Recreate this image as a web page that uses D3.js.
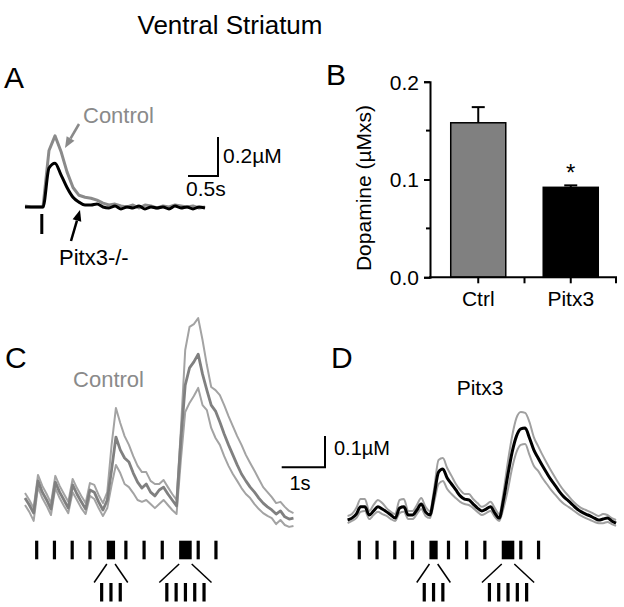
<!DOCTYPE html>
<html><head><meta charset="utf-8">
<script src="https://cdn.jsdelivr.net/npm/d3@7"></script>
<style>
body{margin:0;background:#fff}
svg{display:block}
text{font-family:"Liberation Sans",Arial,Helvetica,sans-serif}
</style>
</head><body>
<svg id="chart" width="624" height="607"></svg>
<script>
// ---------------- DATA ----------------
// Panel A: single-pulse evoked dopamine (µM) sampled every 0.1 s
const timeA = [0,0.1,0.2,0.3,0.4,0.5,0.6,0.7,0.8,0.9,1.0,1.1,1.2,1.3,1.4,1.5,1.6,1.7,1.8,1.9,2.0,2.1,2.2,2.3,2.4,2.5,2.6,2.7,2.8,2.9,3.0];
const controlA = [0.005,0,0,0,0.29,0.365,0.285,0.18,0.1,0.06,0.05,0.045,0.035,0.02,0.01,0.015,0.005,0,0.01,-0.005,0.01,0.005,-0.005,0.005,0,0.01,0.005,0,0.005,-0.005,0];
const pitx3A   = [0,0,0,0,0.2,0.225,0.165,0.1,0.05,0.025,0.01,0.01,0.015,0,-0.005,0.005,-0.01,0,-0.005,0.005,-0.01,0,-0.005,0,-0.01,0.005,-0.005,0,-0.01,0,-0.005];
const stimA = [0.28];

// Panel B: bar chart
const categories = ["Ctrl","Pitx3"];
const barMeans = [0.158, 0.092];
const barSem = [0.016, 0.002];
const yTicksB = [0, 0.1, 0.2];
const yMinorB = [0.05, 0.15];
const yTickLabelsB = ["0.0","0.1","0.2"];

// Panels C & D: train-evoked dopamine (µM), sampled every 0.1 s
const timeCD = [0,0.1,0.2,0.3,0.4,0.5,0.6,0.7,0.8,0.9,1.0,1.1,1.2,1.3,1.4,1.5,1.6,1.7,1.8,1.9,2.0,2.1,2.2,2.3,2.4,2.5,2.6,2.7,2.8,2.9,3.0,3.1,3.2,3.3,3.4,3.5,3.6,3.7,3.8,3.9,4.0,4.1,4.2,4.3,4.4,4.5,4.6,4.7,4.8,4.9,5.0,5.1,5.2,5.3,5.4,5.5,5.6,5.7,5.8,5.9,6.0,6.1,6.2];
const controlMean = [0.070,0.048,0.022,0.125,0.089,0.064,0.035,0.121,0.089,0.064,0.038,0.112,0.083,0.058,0.035,0.096,0.089,0.058,0.032,0.064,0.160,0.265,0.224,0.198,0.185,0.150,0.121,0.102,0.115,0.089,0.077,0.096,0.105,0.083,0.064,0.045,0.256,0.431,0.486,0.505,0.530,0.466,0.415,0.367,0.348,0.313,0.275,0.240,0.208,0.176,0.147,0.125,0.105,0.089,0.070,0.054,0.042,0.032,0.019,0.029,0.010,0.003,0.006];
const controlUpper = [0.086,0.064,0.038,0.144,0.109,0.083,0.054,0.141,0.109,0.083,0.058,0.131,0.102,0.077,0.054,0.118,0.112,0.080,0.054,0.089,0.240,0.358,0.310,0.268,0.240,0.204,0.173,0.153,0.153,0.125,0.115,0.115,0.128,0.105,0.083,0.064,0.288,0.543,0.617,0.626,0.645,0.575,0.495,0.425,0.415,0.399,0.367,0.332,0.300,0.268,0.240,0.208,0.182,0.157,0.131,0.105,0.089,0.073,0.054,0.058,0.042,0.029,0.022];
const controlLower = [0.048,0.026,-0.003,0.105,0.070,0.045,0.016,0.102,0.070,0.045,0.022,0.089,0.064,0.038,0.019,0.077,0.067,0.038,0.013,0.038,0.112,0.176,0.150,0.115,0.105,0.086,0.064,0.058,0.064,0.051,0.038,0.051,0.064,0.048,0.032,0.019,0.192,0.345,0.374,0.396,0.422,0.367,0.351,0.294,0.262,0.240,0.204,0.173,0.147,0.125,0.102,0.083,0.070,0.051,0.035,0.022,0.013,0.006,-0.013,0,-0.016,-0.022,-0.019];
const pitx3Mean = [0,0.006,0.019,0.042,0.042,0.016,0.029,0.042,0.035,0.026,0.016,0.006,0.038,0.042,0.016,0.016,0.032,0.051,0.026,0.016,0.080,0.153,0.163,0.134,0.115,0.096,0.077,0.067,0.064,0.051,0.038,0.029,0.035,0.042,0.022,0.006,0.064,0.144,0.217,0.268,0.291,0.294,0.262,0.224,0.198,0.173,0.150,0.128,0.109,0.089,0.073,0.061,0.048,0.035,0.026,0.019,0.013,0.006,0,0.003,0.006,-0.003,-0.010];
const pitx3Upper = [0.013,0.019,0.038,0.067,0.067,0.029,0.048,0.064,0.054,0.038,0.026,0.019,0.064,0.067,0.029,0.029,0.048,0.070,0.042,0.029,0.102,0.192,0.198,0.166,0.141,0.115,0.096,0.083,0.083,0.067,0.054,0.042,0.048,0.058,0.038,0.019,0.089,0.185,0.268,0.326,0.345,0.342,0.313,0.265,0.236,0.208,0.182,0.157,0.134,0.112,0.093,0.077,0.061,0.048,0.038,0.032,0.026,0.019,0.013,0.019,0.016,0.006,0];
const pitx3Lower = [-0.010,-0.003,0.006,0.026,0.029,0.003,0.016,0.026,0.019,0.013,0.003,-0.003,0.022,0.026,0.003,0.003,0.019,0.035,0.013,0.006,0.058,0.115,0.125,0.099,0.083,0.070,0.058,0.051,0.048,0.038,0.026,0.016,0.022,0.029,0.010,-0.003,0.038,0.096,0.166,0.217,0.240,0.243,0.208,0.173,0.157,0.134,0.115,0.096,0.080,0.064,0.051,0.042,0.032,0.022,0.013,0.006,0,-0.006,-0.010,-0.010,-0.006,-0.013,-0.019];

// Stimulation pattern (s): single pulses and bursts
const singlePulses = [0.27,0.68,1.09,1.50,2.33,2.75,3.17,4.00,4.41];
const burstStart = [1.89, 3.56];
const burstEnd = [2.08, 3.85];
const burstPulses = [3, 5];

// ---------------- DRAWING ----------------
const svg = d3.select("#chart");
const FONT = '"Liberation Sans",Arial,Helvetica,sans-serif';

function txt(x, y, s, size, opts = {}) {
  return svg.append("text").attr("x", x).attr("y", y).text(s)
    .attr("font-size", size).attr("fill", opts.fill || "#000")
    .attr("text-anchor", opts.anchor || "start");
}
function arrow(x1, y1, x2, y2, color) {
  const a = Math.atan2(y2 - y1, x2 - x1), L = 11, W = 4.5;
  const bx = x2 - L * Math.cos(a), by = y2 - L * Math.sin(a);
  svg.append("line").attr("x1", x1).attr("y1", y1).attr("x2", bx).attr("y2", by)
    .attr("stroke", color).attr("stroke-width", 2.5);
  const p = [[x2, y2], [bx + W * Math.sin(a), by - W * Math.cos(a)], [bx - W * Math.sin(a), by + W * Math.cos(a)]];
  svg.append("path").attr("d", "M" + p.map(d => d.join(",")).join("L") + "Z").attr("fill", color);
}

// Title
txt(230, 34, "Ventral Striatum", 26, {anchor: "middle"});

// Panel letters
txt(4, 88, "A", 30); txt(326, 85, "B", 30); txt(5, 368, "C", 30); txt(331, 368, "D", 30);

// ---- Panel A ----
const xA = d3.scaleLinear().domain([0, 3]).range([25, 205]);
const yA = d3.scaleLinear().domain([0, 0.2]).range([207, 168]);
const lineA = d3.line().x((d, i) => xA(timeA[i])).y(d => yA(d));
svg.append("path").attr("d", lineA(controlA)).attr("fill", "none").attr("stroke", "#8a8a8a").attr("stroke-width", 3).attr("stroke-linejoin", "round");
svg.append("path").attr("d", lineA.curve(d3.curveMonotoneX)(pitx3A)).attr("fill", "none").attr("stroke", "#000").attr("stroke-width", 3).attr("stroke-linejoin", "round");
stimA.forEach(t => svg.append("rect").attr("x", xA(t) - 1.5).attr("y", 214).attr("width", 3).attr("height", 20).attr("fill", "#000"));
// scale bar A
{
  const sx = 218, sy = 176;
  svg.append("path").attr("d", `M${sx - (xA(0.5) - xA(0))},${sy}H${sx}V${sy - (yA(0) - yA(0.2))}`)
    .attr("fill", "none").attr("stroke", "#000").attr("stroke-width", 2);
  txt(223, 163, "0.2µM", 21);
  txt(186, 196, "0.5s", 21);
}
txt(83, 123, "Control", 22, {fill: "#8a8a8a"});
arrow(79, 124, 65, 148, "#8a8a8a");
txt(59, 265, "Pitx3-/-", 22);
arrow(71, 241, 80, 210, "#000");

// ---- Panel B ----
const yB = d3.scaleLinear().domain([0, 0.2]).range([277.3, 81.7]);
const xB = d3.scaleBand().domain(categories).range([432, 617]).paddingInner(0.405).paddingOuter(0.2025);
const gB = svg.append("g");
// bars
gB.selectAll("rect.bar").data(categories).enter().append("rect")
  .attr("x", d => xB(d)).attr("width", xB.bandwidth())
  .attr("y", (d, i) => yB(barMeans[i])).attr("height", (d, i) => yB(0) - yB(barMeans[i]))
  .attr("fill", (d, i) => i === 0 ? "#808080" : "#000").attr("stroke", "#000").attr("stroke-width", 1.5);
// error bars
categories.forEach((c, i) => {
  const cx = xB(c) + xB.bandwidth() / 2, top = yB(barMeans[i] + barSem[i]);
  gB.append("line").attr("x1", cx).attr("x2", cx).attr("y1", yB(barMeans[i])).attr("y2", top).attr("stroke", "#000").attr("stroke-width", 2);
  gB.append("line").attr("x1", cx - 6.5).attr("x2", cx + 6.5).attr("y1", top).attr("y2", top).attr("stroke", "#000").attr("stroke-width", 2);
});
// y axis
const yAxisB = d3.axisLeft(yB).tickValues(yTicksB).tickFormat((d, i) => yTickLabelsB[i]).tickSizeOuter(0).tickSize(6).tickPadding(5);
const gy = svg.append("g").attr("transform", "translate(430,0)").call(yAxisB);
gy.select(".domain").attr("stroke-width", 2);
gy.selectAll(".tick line").attr("stroke-width", 2);
gy.selectAll(".tick text").attr("font-size", 21).attr("font-family", FONT).attr("dy", "0.35em");
yMinorB.forEach(v => svg.append("line").attr("x1", 426).attr("x2", 430).attr("y1", yB(v)).attr("y2", yB(v)).attr("stroke", "#000").attr("stroke-width", 2));
// x axis
svg.append("line").attr("x1", 429).attr("x2", xB.range()[1]).attr("y1", yB(0)).attr("y2", yB(0)).attr("stroke", "#000").attr("stroke-width", 2);
const xTickPos = categories.map(c => xB(c) + xB.bandwidth() / 2)
  .concat([(xB(categories[0]) + xB.bandwidth() + xB(categories[1])) / 2, xB.range()[1] - 1]);
xTickPos.forEach(x => svg.append("line").attr("x1", x).attr("x2", x).attr("y1", yB(0)).attr("y2", yB(0) + 6).attr("stroke", "#000").attr("stroke-width", 2));
categories.forEach(c => txt(xB(c) + xB.bandwidth() / 2, 306, c, 21, {anchor: "middle"}));
txt(xB(categories[1]) + xB.bandwidth() / 2, yB(barMeans[1] + barSem[1]) - 4, "*", 24, {anchor: "middle"});
svg.append("text").attr("transform", "translate(371,188) rotate(-90)").attr("text-anchor", "middle")
  .attr("font-size", 21).text("Dopamine (µMxs)");

// ---- Panels C & D ----
const yCD = d3.scaleLinear().domain([0, 0.1]).range([520, 488.7]);
const xC = d3.scaleLinear().domain([0, 1]).range([25, 68.3]);
const xD = d3.scaleLinear().domain([0, 1]).range([347.6, 390.9]);

function drawTrace(xs, arr, color, width, curve) {
  const l = d3.line().x((d, i) => xs(timeCD[i])).y(d => yCD(d)).curve(curve);
  svg.append("path").attr("d", l(arr)).attr("fill", "none").attr("stroke", color)
    .attr("stroke-width", width).attr("stroke-linejoin", "round");
}
drawTrace(xC, controlUpper, "#a3a3a3", 2, d3.curveLinear);
drawTrace(xC, controlLower, "#a3a3a3", 2, d3.curveLinear);
drawTrace(xC, controlMean, "#808080", 2.8, d3.curveLinear);
drawTrace(xD, pitx3Upper, "#a0a0a0", 2, d3.curveMonotoneX);
drawTrace(xD, pitx3Lower, "#a0a0a0", 2, d3.curveMonotoneX);
drawTrace(xD, pitx3Mean, "#000", 3, d3.curveMonotoneX);

txt(108.5, 387, "Control", 22, {fill: "#8a8a8a", anchor: "middle"});
txt(480, 395, "Pitx3", 21, {anchor: "middle"});

// shared scale bar
{
  const sx = 325, sy = 467.3;
  svg.append("path").attr("d", `M${sx - (xC(1) - xC(0))},${sy}H${sx}V${sy - (yCD(0) - yCD(0.1))}`)
    .attr("fill", "none").attr("stroke", "#000").attr("stroke-width", 2);
  txt(334, 455, "0.1µM", 20);
  txt(300, 490, "1s", 20, {anchor: "middle"});
}

// stimulation pattern
function drawStim(xs) {
  const g = svg.append("g");
  const top = 540.7, bot = 559.3;
  singlePulses.forEach(t => g.append("rect").attr("x", xs(t) - 1.6).attr("y", top).attr("width", 3.2).attr("height", bot - top).attr("fill", "#000"));
  burstStart.forEach((s, k) => {
    const x0 = xs(s), x1 = xs(burstEnd[k]), cx = (x0 + x1) / 2;
    g.append("rect").attr("x", x0).attr("y", top).attr("width", x1 - x0).attr("height", bot - top).attr("fill", "#000");
    const n = burstPulses[k], sp = 9.3, half = (n - 1) * sp / 2;
    for (let j = 0; j < n; j++) {
      g.append("rect").attr("x", cx - half + j * sp - 1.6).attr("y", 583).attr("width", 3.2).attr("height", 18.5).attr("fill", "#000");
    }
    g.append("line").attr("x1", x0).attr("y1", 564).attr("x2", cx - half - 7.5).attr("y2", 582.5).attr("stroke", "#000").attr("stroke-width", 1.5);
    g.append("line").attr("x1", x1).attr("y1", 564).attr("x2", cx + half + 7.5).attr("y2", 582.5).attr("stroke", "#000").attr("stroke-width", 1.5);
  });
}
drawStim(xC);
drawStim(xD);
</script>
</body></html>
